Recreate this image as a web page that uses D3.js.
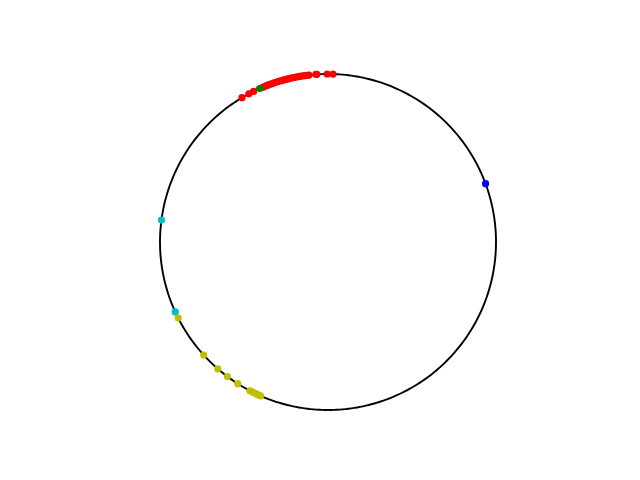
<!DOCTYPE html>
<html><head><meta charset="utf-8">
<script src="https://cdn.jsdelivr.net/npm/d3@7"></script>
<style>body{margin:0;background:#fff}svg{display:block}</style>
</head><body>
<svg id="c" width="640" height="480"></svg>
<script>
// angles in degrees (counter-clockwise from +x) on the unit circle
const redAngles = [120.8, 118.1, 116.3, 112.9, 112.3, 111.6, 111.0, 110.3, 109.6, 109.0, 108.3, 107.6, 107.0, 106.3, 105.7, 105.0, 104.3, 103.7, 103.0, 102.4, 101.7, 101.0, 100.4, 99.7, 99.1, 98.4, 97.8, 97.1, 96.5, 94.1, 93.8, 90.3, 88.3];
const greenAngles = [114.0];
const blueAngles = [20.3];
const cyanAngles = [172.5, 204.6];
const yellowAngles = [206.9, 222.3, 229.0, 233.2, 237.5, 242.3, 243.2, 244.1, 245.0, 245.8, 246.3];

const series = [
  {angles: redAngles, color: "#ff0000"},
  {angles: greenAngles, color: "#008000"},
  {angles: blueAngles, color: "#0000ff"},
  {angles: cyanAngles, color: "#00bfbf"},
  {angles: yellowAngles, color: "#bfbf00"}
];

const svg = d3.select("#c");
const R = 168, cx = 328, cy = 242;
const x = d3.scaleLinear().domain([-1, 1]).range([cx - R, cx + R]);
const y = d3.scaleLinear().domain([-1, 1]).range([cy + R, cy - R]);

const circ = d3.range(0, 361, 1);
const line = d3.line()
  .x(a => x(Math.cos(a * Math.PI / 180)))
  .y(a => y(Math.sin(a * Math.PI / 180)));
svg.append("path").attr("d", line(circ)).attr("fill", "none")
  .attr("stroke", "#000").attr("stroke-width", 1.9);

series.forEach(s => {
  svg.append("g").selectAll("circle").data(s.angles).join("circle")
    .attr("cx", a => x(Math.cos(a * Math.PI / 180)))
    .attr("cy", a => y(Math.sin(a * Math.PI / 180)))
    .attr("r", 3.6)
    .attr("fill", s.color);
});
</script>
</body></html>
